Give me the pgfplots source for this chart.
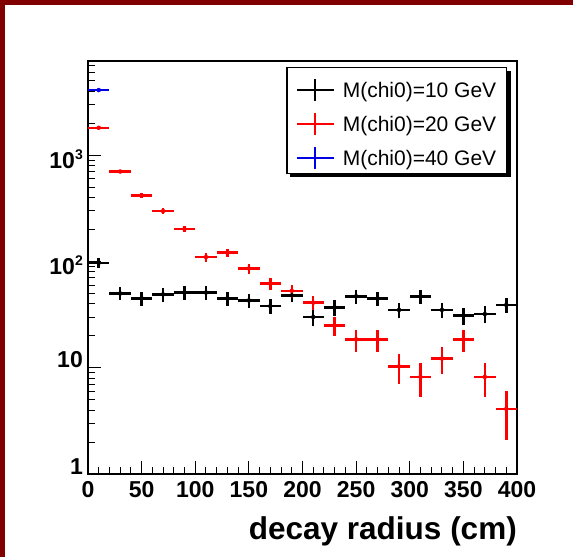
\documentclass[border=0pt]{standalone}
\usepackage{pgfplots}
\pgfplotsset{compat=1.18}
\usepackage{pgfplotstable}
\usepackage{fontspec}
\setmainfont{Liberation Sans}
\definecolor{framered}{RGB}{128,0,0}
\definecolor{rootblue}{RGB}{0,0,230}

\pgfplotstableread{
x y e
10 97 10
30 50 7
50 45 6.7
70 49 7
90 51 7.2
110 51 7.2
130 45 6.7
150 43 6.6
170 38 6.2
190 48 6.9
210 30 5.5
230 37 6.1
250 47 6.9
270 45 6.7
290 35 5.9
310 47 6.9
330 35 5.9
350 31 5.6
370 32 5.7
390 39 6.2
}\blackdata

\pgfplotstableread{
x y e
10 1810 42.5
30 702 26.5
50 417 20.4
70 298 17.3
90 202 14.2
110 110 10.5
130 121 11
150 86 9.3
170 62 7.9
190 53 7.3
210 41 6.4
230 25 5
250 18.5 4.3
270 18.5 4.3
290 10.3 3.2
310 8.2 2.9
330 12.2 3.5
350 18.5 4.3
370 8.2 2.9
390 4.1 2.0
}\reddata

\pgfplotstableread{
x y e
10 4100 64
}\bluedata

\newcommand{\sups}[1]{\raisebox{9pt}{\fontsize{14}{14}\selectfont #1}}

\begin{document}
\begin{tikzpicture}
\useasboundingbox (0pt,0pt) rectangle (573pt,557pt);
\fill[white] (0pt,0pt) rectangle (573pt,557pt);
\fill[framered] (0pt,552pt) rectangle (573pt,557pt);
\fill[framered] (0pt,0pt) rectangle (4.5pt,557pt);
% legend shadow (drawn behind the legend box)
\fill[black] (290pt,380pt) rectangle (511pt,486pt);
\begin{axis}[
  at={(88pt,83pt)}, anchor=south west,
  scale only axis, width=429pt, height=413pt,
  ymode=log,
  xmin=0, xmax=400, ymin=1, ymax=7700,
  axis line style={line width=1.2pt},
  tick style={line width=1pt, black},
  tick align=inside,
  major tick length=13pt, minor tick length=7pt,
  xtick pos=bottom, ytick pos=left,
  xtick={0,50,...,400},
  xticklabels={0,50,100,150,200,250,300,350,400},
  minor x tick num=4,
  ytick={1,10,100,1000},
  yticklabels={1,10,\raisebox{-13.5pt}{10\sups{2}},\raisebox{-13.5pt}{10\sups{3}}},
  minor ytick={2,3,4,5,6,7,8,9,20,30,40,50,60,70,80,90,200,300,400,500,600,700,800,900,2000,3000,4000,5000,6000,7000},
  xticklabel style={font=\bfseries\fontsize{23}{23}\selectfont, anchor=base, yshift=-23pt, inner sep=0pt},
  yticklabel style={font=\bfseries\fontsize{23}{23}\selectfont, anchor=base east, xshift=-5pt, inner sep=0pt},
  xlabel={decay radius (cm)},
  x label style={at={(rel axis cs:1,0)}, anchor=base east, yshift=-65pt, inner sep=0pt, font=\bfseries\fontsize{31.5}{31.5}\selectfont},
  leg/.style={legend image code/.code={
      \path[draw=none, fill=none, use as bounding box] (0pt,0pt) rectangle (46pt,19pt);
      \draw[line width=2.2pt, #1] (0pt,8pt) -- (37pt,8pt) (18.5pt,-3pt) -- (18.5pt,19pt);}},
  legend style={at={(rel axis cs:1,1)}, anchor=north east, xshift=-10pt, yshift=-6pt,
    draw=black, line width=1.5pt, fill=white,
    inner xsep=10pt, inner ysep=6pt, row sep=8pt,
    font=\fontsize{21}{21}\selectfont,
    nodes={inner sep=0pt, text height=24pt, text depth=2pt},
    cells={anchor=base west}},
]
\addplot[black, only marks, mark=none, leg=black,
  error bars/.cd, x dir=both, x fixed=10, y dir=both, y explicit, error mark=none,
  error bar style={line width=2.5pt, black}]
  table[x=x, y=y, y error=e] {\blackdata};
\addlegendentry{M(chi0)=10 GeV}
\addplot[red, only marks, mark=none, leg=red,
  error bars/.cd, x dir=both, x fixed=10, y dir=both, y explicit, error mark=none,
  error bar style={line width=2.5pt, red}]
  table[x=x, y=y, y error=e] {\reddata};
\addlegendentry{M(chi0)=20 GeV}
\addplot[rootblue, only marks, mark=none, leg=rootblue,
  error bars/.cd, x dir=both, x fixed=10, y dir=both, y explicit, error mark=none,
  error bar style={line width=2.5pt, rootblue}]
  table[x=x, y=y, y error=e] {\bluedata};
\addlegendentry{M(chi0)=40 GeV}
\end{axis}
\end{tikzpicture}
\end{document}
